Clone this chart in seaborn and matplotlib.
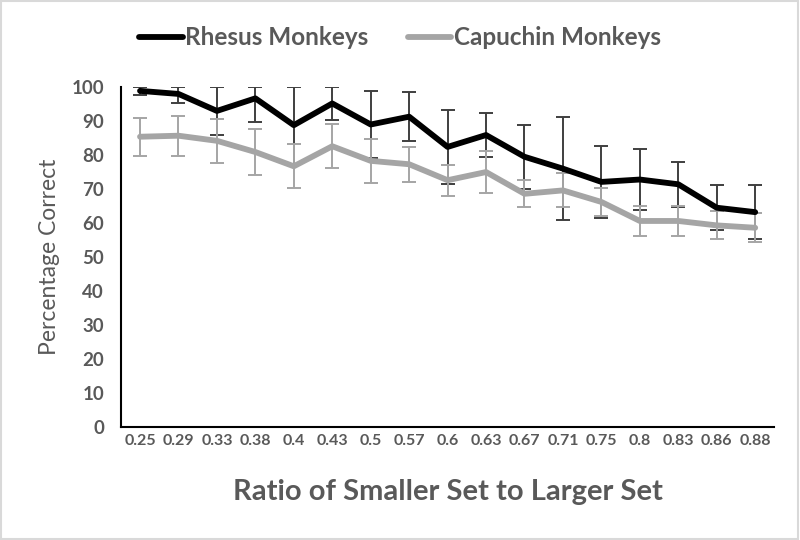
import numpy as np
import pandas as pd
import matplotlib
matplotlib.use("Agg")
import matplotlib.pyplot as plt
import seaborn as sns
from matplotlib.patches import Rectangle

# data
ratios = ["0.25", "0.29", "0.33", "0.38", "0.4", "0.43", "0.5", "0.57", "0.6",
          "0.63", "0.67", "0.71", "0.75", "0.8", "0.83", "0.86", "0.88"]
rhesus = [99.0, 98.1, 93.1, 96.8, 88.9, 95.3, 89.1, 91.4, 82.5,
          86.0, 79.6, 76.1, 72.2, 72.9, 71.5, 64.6, 63.3]
rhesus_err = [1.2, 2.8, 7.0, 6.9, 11.5, 5.0, 10.0, 7.2, 11.0,
              6.6, 9.5, 15.1, 10.6, 9.0, 6.6, 6.6, 8.0]
capuchin = [85.5, 85.8, 84.3, 81.0, 76.8, 82.7, 78.4, 77.4, 72.7,
            75.1, 68.7, 69.7, 66.3, 60.7, 60.7, 59.4, 58.7]
capuchin_err = [5.6, 5.9, 6.4, 6.8, 6.5, 6.5, 6.5, 5.2, 4.6,
                6.2, 4.0, 5.0, 4.0, 4.5, 4.5, 4.1, 4.2]

text_col = "#595959"
rhesus_col = "#000000"
capuchin_col = "#A5A5A5"

df = pd.DataFrame({
    "ratio": ratios * 2,
    "pct": rhesus + capuchin,
    "group": ["Rhesus Monkeys"] * len(ratios) + ["Capuchin Monkeys"] * len(ratios),
})

sns.set_style("white")
plt.rcParams["font.family"] = ["Lato", "DejaVu Sans"]

fig = plt.figure(figsize=(8, 5.4), dpi=100)
ax = fig.add_axes([0.151, 0.209, 0.817, 0.629])

# error bars first (Excel clips them at the axis maximum)
xs = np.arange(len(ratios))
for vals, errs, col, z in [(rhesus, rhesus_err, "#3F3F3F", 1),
                           (capuchin, capuchin_err, capuchin_col, 2)]:
    vals = np.array(vals)
    errs = np.array(errs)
    upper = np.minimum(errs, 100 - vals)
    ax.errorbar(xs, vals, yerr=[errs, upper], fmt="none", ecolor=col,
                elinewidth=1.4, capsize=5, capthick=1.4, zorder=z)

sns.pointplot(data=df[df.group == "Capuchin Monkeys"], x="ratio", y="pct",
              order=ratios, color=capuchin_col, markers="", linewidth=4.2,
              errorbar=None, ax=ax, zorder=3, label="Capuchin Monkeys")
sns.pointplot(data=df[df.group == "Rhesus Monkeys"], x="ratio", y="pct",
              order=ratios, color=rhesus_col, markers="", linewidth=4.2,
              errorbar=None, ax=ax, zorder=4, label="Rhesus Monkeys")
if ax.get_legend() is not None:
    ax.get_legend().remove()

ax.set_ylim(0, 100)
ax.set_xlim(-0.5, len(ratios) - 0.5)
ax.set_yticks(range(0, 101, 10))
ax.tick_params(axis="both", length=0, colors=text_col)
ax.tick_params(axis="x", labelsize=11.5, pad=5)
ax.tick_params(axis="y", labelsize=13.5, pad=12)
for lab in ax.get_xticklabels() + ax.get_yticklabels():
    lab.set_fontweight("bold")
    lab.set_color(text_col)

ax.set_xlabel("Ratio of Smaller Set to Larger Set", fontsize=21,
              fontweight="bold", color=text_col, labelpad=22)
ax.set_ylabel("Percentage Correct", fontsize=16.5, color=text_col, labelpad=8)

sns.despine(ax=ax)
for side in ["left", "bottom"]:
    ax.spines[side].set_color("black")
    ax.spines[side].set_linewidth(1.5)

handles, labels = ax.get_legend_handles_labels()
order = [labels.index("Rhesus Monkeys"), labels.index("Capuchin Monkeys")]
leg = fig.legend([handles[i] for i in order], [labels[i] for i in order],
                 loc="center", bbox_to_anchor=(0.5, 0.93), ncol=2,
                 frameon=False, handlelength=1.8, handletextpad=0.1,
                 columnspacing=1.6, prop={"size": 17.5, "weight": "bold"})
for t in leg.get_texts():
    t.set_color(text_col)

fig.patches.append(Rectangle((0.001, 0.002), 0.997, 0.996, transform=fig.transFigure,
                             fill=False, edgecolor="#D9D9D9", linewidth=1.5))

fig.savefig("out.png", dpi=100)
